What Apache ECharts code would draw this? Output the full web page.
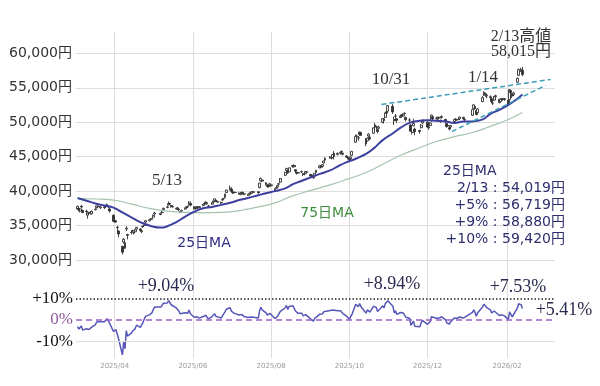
<!DOCTYPE html>
<html><head><meta charset="utf-8">
<script src="https://cdn.jsdelivr.net/npm/echarts@6/dist/echarts.min.js"></script>
<style>html,body{margin:0;padding:0;background:#fff}#c{width:600px;height:386px}</style>
</head><body><div id="c"></div>
<script>
// ---- trading days ----
const dates = [
'2025-03-03','2025-03-04','2025-03-05','2025-03-06','2025-03-07','2025-03-10','2025-03-11','2025-03-12','2025-03-13','2025-03-14','2025-03-17','2025-03-18','2025-03-19','2025-03-21','2025-03-24','2025-03-25','2025-03-26','2025-03-27','2025-03-28','2025-03-31',
'2025-04-01','2025-04-02','2025-04-03','2025-04-04','2025-04-07','2025-04-08','2025-04-09','2025-04-10','2025-04-11','2025-04-14','2025-04-15','2025-04-16','2025-04-17','2025-04-18','2025-04-21','2025-04-22','2025-04-23','2025-04-24','2025-04-25','2025-04-28','2025-04-30',
'2025-05-01','2025-05-02','2025-05-07','2025-05-08','2025-05-09','2025-05-12','2025-05-13','2025-05-14','2025-05-15','2025-05-16','2025-05-19','2025-05-20','2025-05-21','2025-05-22','2025-05-23','2025-05-26','2025-05-27','2025-05-28','2025-05-29','2025-05-30',
'2025-06-02','2025-06-03','2025-06-04','2025-06-05','2025-06-06','2025-06-09','2025-06-10','2025-06-11','2025-06-12','2025-06-13','2025-06-16','2025-06-17','2025-06-18','2025-06-19','2025-06-20','2025-06-23','2025-06-24','2025-06-25','2025-06-26','2025-06-27','2025-06-30',
'2025-07-01','2025-07-02','2025-07-03','2025-07-04','2025-07-07','2025-07-08','2025-07-09','2025-07-10','2025-07-11','2025-07-14','2025-07-15','2025-07-16','2025-07-17','2025-07-18','2025-07-22','2025-07-23','2025-07-24','2025-07-25','2025-07-28','2025-07-29','2025-07-30','2025-07-31',
'2025-08-01','2025-08-04','2025-08-05','2025-08-06','2025-08-07','2025-08-08','2025-08-12','2025-08-13','2025-08-14','2025-08-15','2025-08-18','2025-08-19','2025-08-20','2025-08-21','2025-08-22','2025-08-25','2025-08-26','2025-08-27','2025-08-28','2025-08-29',
'2025-09-01','2025-09-02','2025-09-03','2025-09-04','2025-09-05','2025-09-08','2025-09-09','2025-09-10','2025-09-11','2025-09-12','2025-09-16','2025-09-17','2025-09-18','2025-09-19','2025-09-22','2025-09-24','2025-09-25','2025-09-26','2025-09-29','2025-09-30',
'2025-10-01','2025-10-02','2025-10-03','2025-10-06','2025-10-07','2025-10-08','2025-10-09','2025-10-10','2025-10-14','2025-10-15','2025-10-16','2025-10-17','2025-10-20','2025-10-21','2025-10-22','2025-10-23','2025-10-24','2025-10-27','2025-10-28','2025-10-29','2025-10-30','2025-10-31',
'2025-11-04','2025-11-05','2025-11-06','2025-11-07','2025-11-10','2025-11-11','2025-11-12','2025-11-13','2025-11-14','2025-11-17','2025-11-18','2025-11-19','2025-11-20','2025-11-21','2025-11-25','2025-11-26','2025-11-27','2025-11-28',
'2025-12-01','2025-12-02','2025-12-03','2025-12-04','2025-12-05','2025-12-08','2025-12-09','2025-12-10','2025-12-11','2025-12-12','2025-12-15','2025-12-16','2025-12-17','2025-12-18','2025-12-19','2025-12-22','2025-12-23','2025-12-24','2025-12-25','2025-12-26','2025-12-29','2025-12-30',
'2026-01-05','2026-01-06','2026-01-07','2026-01-08','2026-01-09','2026-01-13','2026-01-14','2026-01-15','2026-01-16','2026-01-19','2026-01-20','2026-01-21','2026-01-22','2026-01-23','2026-01-26','2026-01-27','2026-01-28','2026-01-29','2026-01-30',
'2026-02-02','2026-02-03','2026-02-04','2026-02-05','2026-02-06','2026-02-09','2026-02-10','2026-02-12','2026-02-13'
];
const open = [
37400,37500,37100,37800,37200,37100,36500,36900,36900,36700,37300,37600,37800,37600,37700,37800,38000,37700,37400,36500,
35700,35500,34700,34200,32000,32600,32500,34500,33700,34000,34200,33900,34100,34500,34500,34100,34800,35000,35500,35700,35900,
36200,36700,36600,36900,37300,37700,38000,38200,37900,37700,37400,37500,37400,37000,37100,37400,37600,37700,38000,38200,
37700,37500,37600,37700,37600,37900,38100,38300,38300,37800,38100,38400,38600,38700,38500,38300,38700,38900,39100,39800,40300,
40300,39900,39800,39800,39700,39500,39700,39800,39600,39400,39600,39600,39700,39900,39900,40500,41500,41600,41200,40900,40700,40900,
40900,40100,40400,40600,41000,41300,42300,43000,42900,42800,43600,43700,43100,42700,42700,42800,42500,42500,42600,42800,
42400,42200,42000,42200,42700,43400,43600,43600,44100,44500,44900,44800,44900,45500,45300,45500,45700,45500,45100,44800,
44800,44700,45200,47100,48000,47700,48200,48500,47600,47300,48000,47800,48400,49600,49300,48900,49100,50000,50500,50700,51500,51600,
52300,50400,50900,50500,50700,51000,50900,51300,50700,50300,49600,48500,49500,49000,48800,49200,49900,50200,
50000,49200,49500,50200,50800,50600,50500,50700,50200,50700,50400,49800,49500,49200,49300,50100,50400,50300,50400,50500,50700,50400,
51000,52000,52300,51700,51400,53000,53900,54000,53800,53700,53400,52800,53200,53700,53300,53000,53400,53300,53400,
53200,53300,54600,54100,54000,55800,56800,57500,57500
];
const close = [
37785,37331,37418,37704,36887,37028,36793,36819,36790,37053,37396,37845,37751,37677,37608,37780,38027,37799,37120,35617,
35624,35725,34736,33780,31136,33012,31714,34609,33586,33982,34267,33920,34377,34730,34280,34221,34868,35039,35705,35840,36045,
36452,36831,36780,36928,37503,37644,38183,38128,37755,37753,37498,37529,37299,36985,37160,37532,37724,37722,38432,37965,
37470,37446,37747,37554,37741,38088,38211,38421,38173,37834,38311,38536,38885,38488,38403,38354,38790,38942,39584,40150,40487,
39986,39762,39785,39810,39587,39688,39821,39646,39570,39459,39679,39663,39901,39819,39774,41171,41826,41456,40998,40674,40654,41069,
40800,40290,40549,40794,41059,41820,42718,43274,42649,43378,43714,43546,42888,42610,42633,42807,42394,42520,42829,42718,
42188,42310,41938,42580,43018,43643,43459,43837,44372,44768,44902,44790,45303,45045,45493,45630,45754,45354,44933,44932,
44550,44936,45769,47944,47950,47734,48580,48088,46847,47672,48277,47582,49185,49316,49307,48641,49299,50512,50219,51307,51325,52411,
51497,50212,50883,50276,50911,50842,51063,51281,50376,50323,48702,48537,49823,48625,48659,49559,50167,50253,
49303,49303,49864,51028,50491,50581,50655,50602,50148,50837,50168,49383,49512,49001,49507,50402,50412,50344,50407,50750,50526,50339,
51832,52518,51961,51117,51940,53549,54341,54110,53936,53583,52991,52774,53689,53846,52885,53333,53358,53375,53322,
52655,54720,54293,53818,54253,56363,57650,57639,56941
];
const low = [
37300,37050,36900,37500,36800,36800,35990,36600,36600,36600,37200,37500,37500,37400,37400,37600,37800,37500,36900,35500,
35400,35400,34100,33300,30792,32400,31600,34200,33000,33700,34000,33700,33900,34400,34200,33900,34700,34800,35400,35600,35800,
36100,36500,36500,36800,37200,37500,37900,38000,37600,37600,37300,37400,37100,36800,36900,37300,37500,37600,37900,37800,
37300,37300,37500,37400,37500,37800,38000,38200,38000,37600,38000,38300,38500,38400,38300,38100,38600,38800,39000,39700,40100,
39900,39600,39600,39700,39500,39400,39600,39500,39400,39300,39500,39500,39600,39700,39600,40400,41400,41300,40800,40500,40500,40700,
40600,39900,40300,40500,40900,41200,42200,42900,42500,42700,43400,43400,42600,42400,42500,42600,42200,42300,42500,42600,
42000,42100,41800,42100,42600,43300,43300,43500,44000,44400,44700,44600,44800,44600,45200,45300,45600,45200,44800,44600,
44400,44500,45100,47000,47600,47300,48100,48000,46500,47200,47900,47400,48300,49000,48900,48400,49000,49900,49800,50600,51000,51500,
51200,49600,50500,49900,50600,50700,50800,51100,50100,50000,48600,48200,49400,48100,48300,49100,49700,50000,
49200,48900,49400,50100,50300,50400,50300,50400,49900,50500,49900,49200,49300,48800,49100,50000,50200,50200,50300,50400,50400,50200,
50900,51900,51800,51000,51300,52900,53800,53700,53500,53300,52800,52500,53100,53500,52700,52900,53200,53100,53100,
52400,53200,54000,53500,53800,55700,56700,57300,56700
];
const high = [
37900,37600,37500,38000,37300,37300,36900,37000,37100,37200,37500,37900,37900,37800,37800,37900,38200,37900,37500,36600,
36000,35800,35000,34300,32000,33200,32700,34900,33800,34200,34400,34100,34500,34800,34600,34300,35000,35100,35800,36000,36100,
36600,37000,36900,37100,37600,37900,38500,38300,38000,37900,37600,37700,37500,37100,37300,37600,37800,37900,38500,38300,
37800,37600,37800,37800,37800,38100,38300,38500,38400,38000,38400,38600,38900,38800,38600,38500,38900,39000,39600,40200,40800,
40400,40000,39900,39900,39800,39800,39900,39900,39700,39600,39800,39800,40000,40000,40000,41200,42000,41700,41300,41000,40800,41200,
41000,40400,40600,40900,41200,41900,42800,43400,43000,43400,43800,43900,43200,42800,42800,43000,42600,42700,42900,42900,
42500,42400,42100,42600,43100,43800,43800,43900,44400,44900,45100,44900,45400,45800,45600,45700,45900,45600,45200,45000,
44900,45000,45800,48200,48200,48000,48600,48600,47700,47800,48400,48000,49200,49900,49500,49000,49500,50600,50600,51400,51600,52500,
52636,50800,51200,50600,51100,51200,51300,51400,50800,50600,49700,48800,50500,49200,48900,49700,50200,50400,
50100,49500,50000,51100,50900,50800,50800,50800,50400,51000,50500,49900,49700,49300,49600,50500,50600,50500,50500,50800,50800,50500,
51900,52600,52400,51800,52000,53800,54487,54300,54100,53900,53500,53000,53800,54000,53400,53400,53500,53500,53500,
53300,54800,54700,54200,54400,56500,57800,57900,58015
];
// deviation from 25-day MA (%)
const dev = [
-3.1,-4.2,-3.8,-2.8,-4.7,-4.1,-4.6,-4.4,-4.2,-3.3,-2.1,-0.8,-0.9,-0.8,-0.8,-0.2,0.6,0.1,-1.5,-5.3,
-5.0,-4.5,-6.6,-8.7,-16.2,-10.3,-13.4,-4.9,-7.5,-6.1,-5.1,-5.5,-4.0,-2.4,-3.4,-3.3,-1.2,-0.5,1.7,2.4,3.3,
4.7,6.0,6.0,6.3,7.8,7.9,9.04,8.5,7.1,6.6,5.6,5.3,4.2,2.9,2.8,3.4,3.5,3.1,4.6,2.9,
1.3,0.9,1.5,0.7,0.9,1.6,1.8,2.2,1.5,0.5,1.6,2.1,2.9,1.7,1.2,0.9,1.9,2.2,3.8,5.0,5.7,
4.1,3.4,3.2,3.1,2.3,2.4,2.6,1.9,1.6,1.2,1.6,1.4,1.8,1.3,0.9,4.4,5.9,4.7,3.3,2.3,2.1,3.1,
2.3,0.7,1.2,1.7,2.3,3.9,5.7,6.8,4.9,6.3,6.6,6.0,4.2,3.3,3.1,3.1,1.9,2.0,2.5,2.0,
0.4,0.6,-0.5,0.8,1.6,2.7,2.1,2.8,3.8,4.5,4.4,3.9,4.7,3.8,4.3,4.3,4.2,3.0,1.7,1.4,
0.3,1.0,2.6,7.3,7.0,6.2,7.7,6.3,3.2,4.7,5.6,3.7,6.5,6.3,5.8,3.9,4.7,6.6,5.6,7.6,7.3,8.94,
6.4,3.3,4.3,2.6,3.5,3.1,3.3,3.4,1.3,0.8,-2.5,-2.9,-0.5,-2.9,-3.1,-1.3,-0.2,-0.1,
-2.0,-2.0,-0.8,1.5,0.6,0.8,0.9,0.9,0.0,1.5,0.1,-1.3,-1.0,-1.9,-0.8,1.0,0.9,0.7,0.8,1.4,0.9,0.5,
3.5,4.7,3.5,1.7,3.3,6.2,7.4,6.6,5.9,4.7,3.3,2.7,4.2,4.3,2.1,2.7,2.4,2.3,1.9,
0.3,3.8,2.6,1.4,1.9,5.5,7.53,7.1,5.41
];
// moving averages (read at roughly weekly points)
const ma25Dates = ['2025-03-03','2025-03-10','2025-03-17','2025-03-24','2025-03-31','2025-04-07','2025-04-14','2025-04-21','2025-04-28','2025-05-07','2025-05-12','2025-05-19','2025-05-26','2025-06-02','2025-06-09','2025-06-16','2025-06-23','2025-06-30','2025-07-07','2025-07-14','2025-07-22','2025-07-28','2025-08-04','2025-08-12','2025-08-18','2025-08-25','2025-09-01','2025-09-08','2025-09-16','2025-09-22','2025-09-29','2025-10-06','2025-10-14','2025-10-20','2025-10-27','2025-11-04','2025-11-10','2025-11-17','2025-11-25','2025-12-01','2025-12-08','2025-12-15','2025-12-22','2025-12-29','2026-01-05','2026-01-13','2026-01-19','2026-01-26','2026-02-02','2026-02-09','2026-02-13'];
const ma25 = [39000,38600,38200,37900,37600,36900,36200,35500,35000,34700,34900,35500,36300,37000,37500,37700,38000,38300,38700,39000,39400,39700,40000,40400,41000,41500,42000,42500,43000,43600,44200,44700,45400,46200,47400,48400,49200,49900,50200,50300,50200,50100,49900,50100,50100,50400,51200,51800,52500,53400,54019];
const ma75Dates = ['2025-03-03','2025-03-17','2025-03-31','2025-04-14','2025-04-28','2025-05-12','2025-05-26','2025-06-09','2025-06-23','2025-07-07','2025-07-22','2025-08-04','2025-08-18','2025-09-01','2025-09-16','2025-09-29','2025-10-14','2025-10-27','2025-11-10','2025-11-25','2025-12-08','2025-12-22','2026-01-05','2026-01-19','2026-02-02','2026-02-13'];
const ma75 = [38900,38850,38700,38100,37500,37100,36900,36850,36900,37150,37700,38300,39300,40100,40900,41700,42700,43900,45200,46300,47200,47900,48500,49400,50400,51400];
// trend lines
const trendUpperDates = ['2025-10-26','2026-03-07'];
const trendUpper = [52570, 56210];
const trendLowerDates = ['2025-12-20','2026-03-03'];
const trendLower = [48640, 55340];
// ticks
const xTicks = ['2025-04-01','2025-06-01','2025-08-01','2025-10-01','2025-12-01','2026-02-01'];
const yTicks = [30000,35000,40000,45000,50000,55000,60000];
const devTicks = [-10,0,10];
const devRefLines = [-10,0,10];

const SERIF = '"Liberation Serif","Noto Sans CJK JP",serif';
const SANS = '"DejaVu Sans","Noto Sans CJK JP",sans-serif';

const ts = s => { const p = s.split('-').map(Number); return new Date(p[0], p[1]-1, p[2]).getTime(); };
const candleData = dates.map((d,i)=>[ts(d), open[i], close[i], low[i], high[i]]);
const devData = dates.map((d,i)=>[ts(d), dev[i]]);
const pair = (ds, vs) => ds.map((d,i)=>[ts(d), vs[i]]);
const xTickVals = xTicks.map(ts);

const xMin = new Date(2025,2,1,19,12).getTime();
const xMax = new Date(2026,2,10,9,36).getTime();
const fmtMonth = v => { const d = new Date(v); return d.getFullYear() + '/' + String(d.getMonth()+1).padStart(2,'0'); };

const chart = echarts.init(document.getElementById('c'));
function txt(text, x, y, font, fill, align) {
  return {type:'text', x:x, y:y, silent:true, z:100,
    style:{text:text, font:font, fill:fill, align:align||'center', verticalAlign:'middle'}};
}
chart.setOption({
  animation:false,
  backgroundColor:'#fff',
  grid:[
    {left:76, right:45, top:32, height:240},
    {left:76, right:45, top:272, height:86}
  ],
  xAxis:[
    {type:'value', gridIndex:0, min:xMin, max:xMax, scale:true,
     axisLine:{show:false}, axisTick:{show:false, customValues:xTickVals},
     axisLabel:{show:false, customValues:xTickVals},
     splitLine:{show:true, lineStyle:{color:'#dddddd', width:1}}},
    {type:'value', gridIndex:1, min:xMin, max:xMax, scale:true,
     axisLine:{show:false}, axisTick:{show:false, customValues:xTickVals},
     axisLabel:{customValues:xTickVals, formatter:fmtMonth, fontSize:7, color:'#9a9a9a', margin:5, fontFamily:SANS},
     splitLine:{show:true, lineStyle:{color:'#dddddd', width:1}}}
  ],
  yAxis:[
    {type:'value', gridIndex:0, min:28258, max:63092,
     axisLine:{show:false}, axisTick:{show:false, customValues:yTicks},
     axisLabel:{customValues:yTicks, formatter:v=>v.toLocaleString('en-US')+'円', fontSize:14, color:'#333', margin:4, fontFamily:SANS},
     splitLine:{show:true, lineStyle:{color:'#dddddd', width:1}}},
    {type:'value', gridIndex:1, min:-17.67, max:22.33,
     axisLine:{show:false}, axisTick:{show:false, customValues:devTicks},
     axisLabel:{customValues:devTicks, formatter:v=>(v>0?'+':'')+v+'%', fontSize:17, fontFamily:SERIF, margin:3,
       color:v=>(Number(v)===0?'#8e5a9e':'#111')},
     splitLine:{show:false}}
  ],
  series:[
    {type:'candlestick', xAxisIndex:0, yAxisIndex:0, data:candleData, encode:{x:0, y:[1,2,3,4]},
     barWidth:2.4,
     itemStyle:{color:'#ffffff', color0:'#333333', borderColor:'#333333', borderColor0:'#333333', borderWidth:0.9}},
    {type:'line', xAxisIndex:0, yAxisIndex:0, data:pair(ma75Dates, ma75), symbol:'none', smooth:true,
     lineStyle:{color:'#a3c4ad', width:1.2}},
    {type:'line', xAxisIndex:0, yAxisIndex:0, data:pair(ma25Dates, ma25), symbol:'none', smooth:true,
     lineStyle:{color:'#3b3f9e', width:2}},
    {type:'line', xAxisIndex:0, yAxisIndex:0, data:pair(trendUpperDates, trendUpper), symbol:'none',
     lineStyle:{color:'#3a9db5', width:1.5, type:[5,3]}},
    {type:'line', xAxisIndex:0, yAxisIndex:0, data:pair(trendLowerDates, trendLower), symbol:'none',
     lineStyle:{color:'#3a9db5', width:1.5, type:[5,3]}},
    {type:'line', xAxisIndex:1, yAxisIndex:1, data:devData, symbol:'none',
     lineStyle:{color:'#5656b8', width:1.5}, z:3,
     markLine:{silent:true, symbol:'none', label:{show:false},
       data:[
         {yAxis:devRefLines[0], lineStyle:{color:'#dddddd', width:1, type:'solid'}},
         {yAxis:devRefLines[1], lineStyle:{color:'#9a5fc8', width:1.5, type:[6,4]}},
         {yAxis:devRefLines[2], lineStyle:{color:'#222222', width:1.5, type:[1.5,2]}}
       ]}}
  ],
  graphic:[
    txt('5/13', 167, 181, '17px '+SERIF, '#333'),
    txt('10/31', 391, 80, '17px '+SERIF, '#333'),
    txt('1/14', 483, 78, '17px '+SERIF, '#333'),
    txt('2/13高値', 521, 37, '16px '+SERIF, '#333'),
    txt('58,015円', 521, 52, '16px '+SERIF, '#333'),
    txt('25日MA', 204, 243, '14px '+SANS, '#2e2e80'),
    txt('75日MA', 327, 213, '14px '+SANS, '#3c8c3c'),
    txt('25日MA', 443, 171, '14px '+SANS, '#2e2e6e', 'left'),
    txt('2/13 : 54,019円', 565, 188, '14px '+SANS, '#2e2e6e', 'right'),
    txt('+5% : 56,719円', 565, 205, '14px '+SANS, '#2e2e6e', 'right'),
    txt('+9% : 58,880円', 565, 222, '14px '+SANS, '#2e2e6e', 'right'),
    txt('+10% : 59,420円', 565, 239, '14px '+SANS, '#2e2e6e', 'right'),
    txt('+9.04%', 166, 286, '18px '+SERIF, '#2a2a50'),
    txt('+8.94%', 392, 284, '18px '+SERIF, '#2a2a50'),
    txt('+7.53%', 518, 287, '18px '+SERIF, '#2a2a50'),
    txt('+5.41%', 564, 310, '18px '+SERIF, '#2a2a50')
  ]
});
</script></body></html>
